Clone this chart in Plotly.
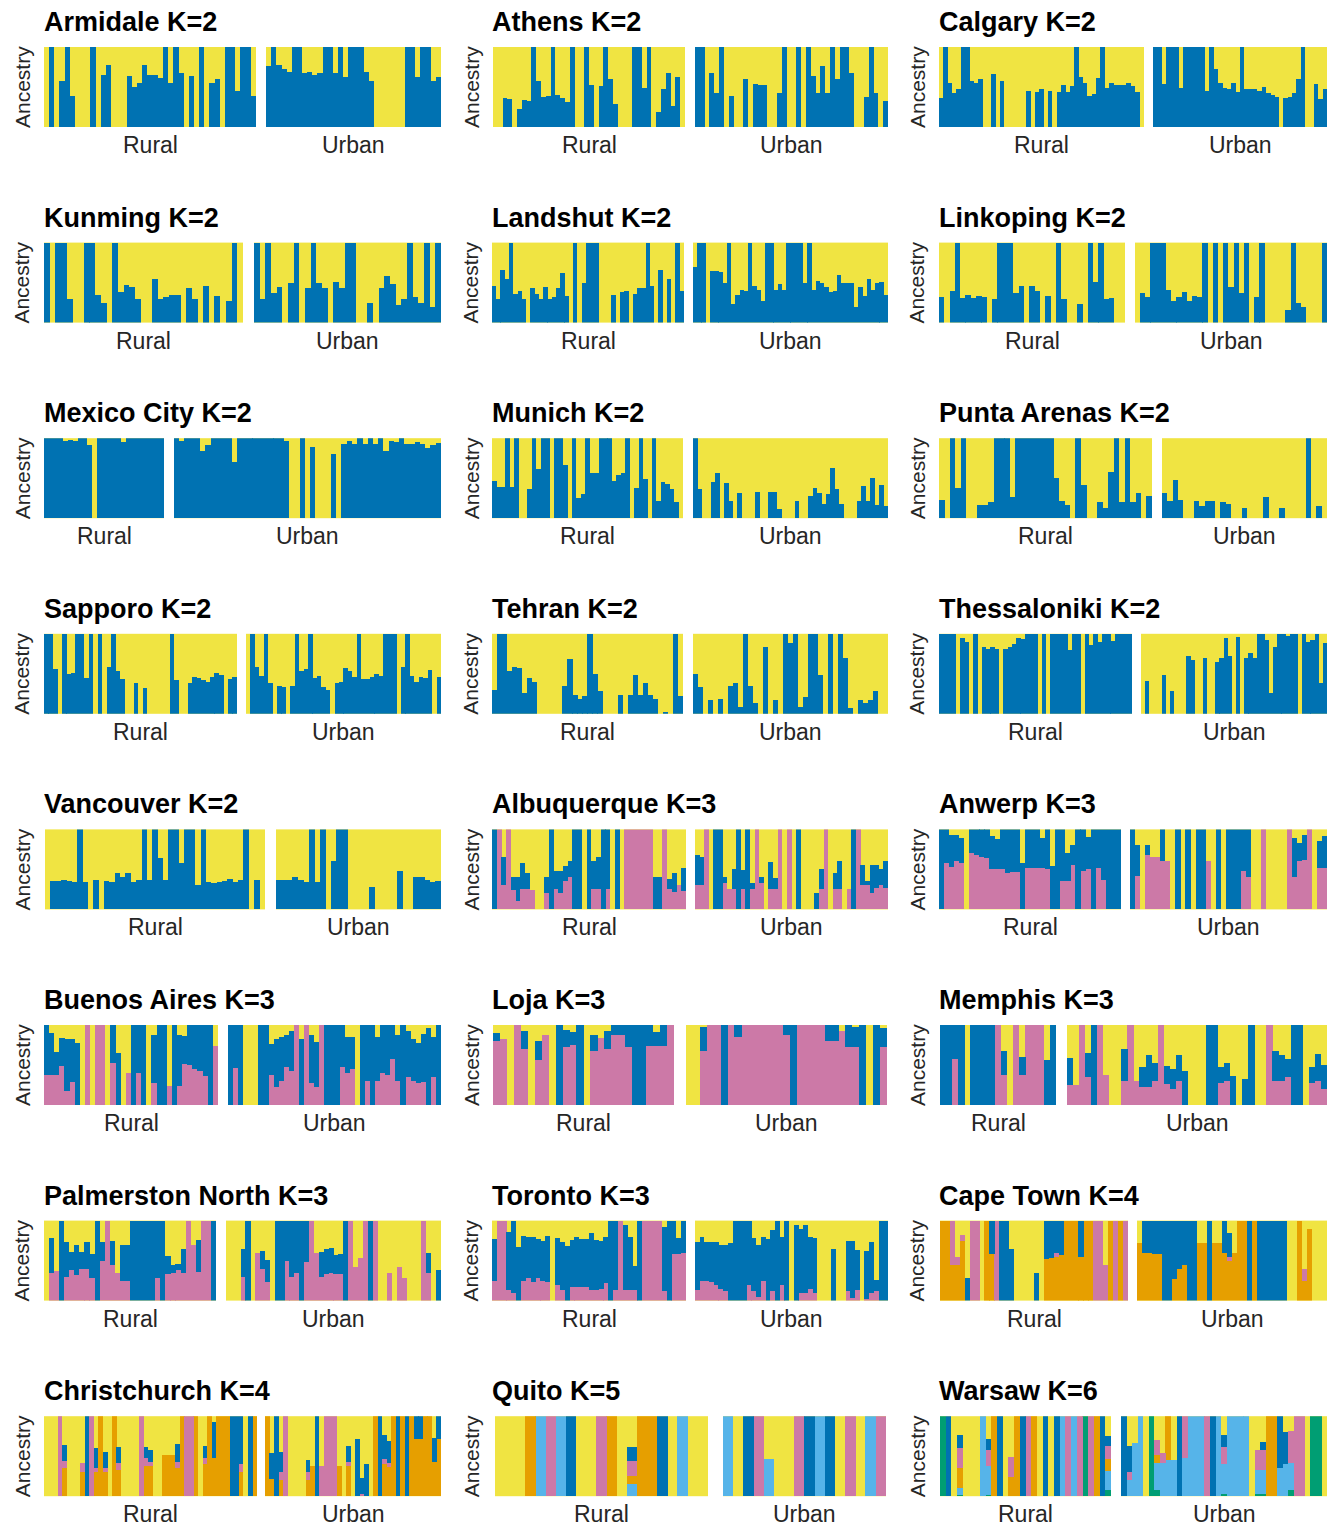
import plotly.graph_objects as go

W, H = 1327, 1526

# ---------------- data (ancestry fractions per individual; yellow = remainder) ----------------
armidale_rural_blue = [0,1,0,.58,1,.39,0,0,0,1,0,.65,.77,0,0,0,.64,.5,.55,.77,.65,.65,.61,1,.55,1,.67,0,.64,0,1,0,.55,.6,0,1,1,.45,1,1,.39]
armidale_urban_blue = [.76,1,.77,.73,.69,1,1,.67,.69,.65,.67,1,1,.67,1,.63,1,1,1,.69,.57,0,0,0,0,0,0,1,1,.62,1,1,.57,.62]
athens_rural_blue = [0,0,.36,.35,0,.23,.34,.33,1,.57,.38,.39,1,.40,.36,.31,1,0,0,1,.53,0,.51,1,.6,.29,0,0,0,1,1,.49,1,0,.19,.48,.68,.26,.62,0]
athens_urban_blue = [1,1,0,.67,.43,1,0,.39,0,0,.6,0,.54,.52,.52,0,0,.42,1,0,0,1,0,1,.64,.42,.76,.43,1,.6,1,1,.67,0,0,.38,1,.42,0,.33]
calgary_rural_blue = [.36,1,.55,.42,.48,1,1,.57,.55,.6,0,0,.66,0,.57,0,0,0,0,0,.45,0,.44,.47,0,.45,0,.44,.52,.44,.51,1,.63,.55,.39,.41,.61,1,.49,.55,.52,.53,.52,.55,.51,.44,0]
calgary_urban_blue = [1,1,.54,1,1,1,.49,1,1,1,1,1,.45,1,.73,.55,.49,.48,.55,.44,1,.48,.47,.47,.45,.50,.42,.40,.37,0,.36,.37,.42,.60,1,0,0,.54,.35,.47]
kunming_rural_blue = [1,0,1,1,.30,0,0,1,1,.34,.25,0,1,.38,.47,.45,.29,0,0,.54,.29,.32,.35,.35,0,.43,.29,0,.46,0,.33,0,.27,1,0]
kunming_urban_blue = [1,.29,1,.37,.45,0,.5,1,0,.43,1,.49,.43,0,.51,.43,1,1,0,0,.24,0,.43,.58,.48,.22,.30,1,.32,.24,1,.2,1]
landshut_rural_blue = [.46,.30,.66,.55,1,.36,.39,.30,0,.43,.36,.30,.44,.30,.32,.43,.62,.33,0,1,0,.49,1,1,1,0,0,0,.34,0,.38,.40,0,.36,.43,.43,1,.46,0,.66,0,.55,0,1,.40]
landshut_urban_blue = [.70,1,1,0,.64,.64,.63,.50,1,.23,.34,.41,.39,1,.46,.41,.27,1,1,.41,.48,.41,1,1,1,1,.50,1,.41,.52,.49,.45,.38,.40,.60,.49,.49,.49,.20,.44,.33,.54,.41,.49,.51,.35]
linkoping_rural_blue = [.32,0,.39,1,.31,.34,.31,.33,.32,0,.30,1,1,1,.37,.46,0,.46,.39,0,.33,0,1,.30,0,0,.23,0,1,.51,1,.30,.31,0,0]
linkoping_urban_blue = [0,.37,.32,1,1,1,.41,.27,.32,.38,.27,.33,.32,1,0,1,0,1,.45,1,.37,1,0,.32,1,0,0,0,0,.16,1,.24,.19,0,0,0,1]
mexico_rural_blue = [1,1,1,1,.97,.98,.97,1,1,.92,0,1,1,1,1,1,.95,1,1,1,1,1,1,1,1]
mexico_urban_blue = [1,.97,1,1,1,.84,.92,1,1,1,1,.70,1,1,1,1,1,1,1,1,1,.97,0,0,1,0,.89,0,0,0,.80,0,
                     .93,.97,.93,1,.93,1,.93,1,.84,.97,.95,1,.93,.93,.95,.93,.88,.91,.94]
munich_rural_blue = [.47,.39,.39,1,.39,1,0,0,.36,1,.62,1,1,0,1,1,.67,0,1,.25,.30,1,.57,.57,1,1,1,.46,.54,.56,1,0,.38,1,.49,0,1,.21,.45,.43,.36,.2,0]
munich_urban_blue = [1,.36,0,0,.45,.56,0,.44,.21,0,.31,0,0,0,.33,0,0,.33,.33,.12,0,0,0,.21,0,0,.28,.38,.31,.18,.30,.63,.36,.18,0,0,0,.21,.4,.21,.5,.17,.41,.15]
punta_rural_blue = [.23,0,1,.38,1,0,0,.16,.17,.20,1,1,1,.27,1,1,1,1,1,1,1,.5,.22,.17,0,1,.42,0,0,.2,.13,.58,1,.2,1,.2,.31,0,.28]
punta_urban_blue = [.32,.21,.48,.23,0,0,.21,.15,.21,.21,0,.2,.18,0,0,.13,0,0,0,.27,0,0,.13,0,0,0,0,1,0,.15,0]
sapporo_rural_blue = [1,1,.56,0,1,.5,.51,1,1,.45,1,0,1,0,.58,1,.54,.43,0,0,.39,0,.32,0,0,0,0,0,1,.42,0,0,.38,.46,.45,.42,.4,.46,.51,.49,0,.43,.46]
sapporo_urban_blue = [0,1,.58,.47,1,.38,0,.35,.33,0,.35,1,.53,.56,1,.45,.47,.34,.30,0,.38,.4,.57,.54,.46,1,.43,.43,.46,.5,.47,1,1,1,0,.58,1,.47,.4,.46,.45,.55,0,.46]
tehran_rural_blue = [.30,1,1,.54,.58,.57,.26,.45,.4,0,0,0,0,0,.35,.68,.23,.18,.22,1,.5,.28,0,0,0,.24,0,.23,.49,.23,.38,.23,.18,0,.02,0,1,.22]
tehran_urban_blue = [.5,.34,0,.17,0,.19,0,.35,.38,.08,1,.35,.13,0,.84,0,.17,0,1,.88,1,.08,.21,1,1,.48,0,1,0,1,.70,.07,0,.17,.14,.17,.29,0,0]
thessaloniki_rural_blue = [1,1,1,1,0,.95,.9,0,1,0,.84,.81,.83,.81,0,.81,.84,.87,.95,.94,1,1,1,0,1,0,1,1,1,1,.8,1,1,0,1,.86,1,.9,1,1,.91,1,1,1,1]
thessaloniki_urban_blue = [0,.41,0,0,0,.49,0,.28,0,0,0,.72,.67,0,0,.70,0,0,.65,.70,.95,.72,0,.96,0,.70,.76,.70,1,1,.92,.26,.83,1,1,.97,1,1,0,1,.9,.92,1,.38,.88]
vancouver_rural_blue = [0,.35,.36,.37,.36,.34,1,.34,0,.37,0,.35,.34,.45,.4,.45,.34,.37,1,.37,1,.64,.37,1,1,.58,1,1,.3,1,.34,.33,.34,.35,.38,.34,.37,1,0,.37,0]
vancouver_urban_blue = [.37,.37,.37,.4,.37,.34,1,.34,1,0,.6,1,1,0,0,0,0,.28,0,0,0,0,.48,0,0,.4,.4,.37,.34,.35]

albuquerque_rural_pink = [0,1,.3,1,.24,.1,.25,.25,.24,0,0,.2,0,.25,.2,.35,.4,0,0,0,0,.25,.25,0,.25,0,0,0,1,1,1,1,1,1,0,0,1,.25,.22,.3,.23]
albuquerque_rural_blue = [1,0,.35,0,.16,.3,.33,.2,0,0,0,.2,1,.23,.28,.19,.2,1,1,0,1,.35,.41,1,.75,0,1,0,0,0,0,0,0,0,.4,.4,0,.13,.23,0,.29]
albuquerque_urban_pink = [.3,.3,1,0,0,0,.33,.25,.25,0,.25,0,.25,1,.33,0,.25,.25,1,0,1,0,0,0,0,0,0,.25,1,0,.25,.25,0,.25,0,1,.3,.3,.2,.27,.3,.27]
albuquerque_urban_blue = [.38,.35,0,0,1,1,.08,0,.26,1,.24,1,.08,0,.08,0,.34,.14,0,0,0,0,1,0,0,0,.2,.25,0,0,.2,.36,0,0,1,0,.25,.05,.36,.28,.2,.33]
anwerp_rural_pink = [0,.58,.53,.6,.58,0,.71,.68,.66,.64,.5,.5,.5,.45,.47,.47,0,.52,.52,.52,.52,.5,0,0,.35,.35,.55,0,.48,.5,0,.52,.37,0,0,0]
anwerp_rural_blue = [1,.42,.4,.33,.31,0,.29,.32,.34,.36,.42,.38,.5,.55,.53,.53,.58,.48,.48,.48,.37,.5,.54,1,.65,.36,.25,1,.52,.41,1,.48,.63,1,1,1]
anwerp_urban_pink = [0,.42,0,.68,.65,.65,.6,.6,0,0,0,0,0,0,0,.6,0,0,0,0,0,0,.48,.4,0,0,1,0,0,0,0,1,.4,.6,.62,1,0,.52,.52]
anwerp_urban_blue = [1,.38,0,.12,0,0,.4,0,0,1,0,1,0,1,1,0,0,1,0,1,1,1,.52,.6,0,0,0,0,0,0,0,0,.49,.23,.31,0,0,.33,.4]
buenosaires_rural_pink = [.38,.38,.38,.49,.18,.29,0,0,1,0,1,1,0,.52,0,0,.4,0,.4,0,0,.28,0,0,.24,0,.24,.51,.5,.45,.42,.36,0,.74]
buenosaires_rural_blue = [.62,.52,.28,.35,.65,.53,.78,0,0,0,0,0,0,.48,.65,0,0,1,.6,1,0,.6,1,1,0,1,.64,.35,.5,.55,.58,.64,1,0]
buenosaires_urban_pink = [0,.46,0,0,0,0,0,0,.37,.22,.3,.47,.42,1,0,1,.28,.22,1,0,0,0,.48,.4,.45,0,0,.3,0,.3,.4,.38,.58,.3,0,.35,.3,.28,.29,0,.35,0]
buenosaires_urban_blue = [1,.54,1,0,0,0,1,1,.39,.6,.55,.41,.5,0,.82,0,.6,.57,0,1,1,1,.52,.45,.4,0,1,.7,1,.55,.6,.62,.42,.57,1,.57,.52,.5,.6,.96,.5,1]
loja_rural_pink = [.8,.82,0,1,.7,0,.56,.87,0,0,.72,.75,0,0,.67,.84,.7,.88,.88,.73,0,0,.74,.74,.74,1]
loja_rural_blue = [.1,0,0,0,.22,0,.24,0,0,1,.22,.16,1,0,.2,0,.22,.12,.12,.27,1,1,.26,.17,.26,0]
loja_urban_pink = [0,0,.68,1,1,0,1,.85,1,1,1,1,1,1,.88,0,1,1,1,1,.8,.8,.93,.72,.72,0,0,0,.73]
loja_urban_blue = [0,0,.3,0,0,1,0,.15,0,0,0,0,0,0,.12,1,0,0,0,0,.2,.2,0,.28,.25,1,0,1,.23]
memphis_rural_pink = [0,0,.58,0,0,0,0,0,0,1,.37,0,1,.37,1,1,1,0,0]
memphis_rural_blue = [1,1,.42,1,0,1,1,1,1,0,.31,0,0,.23,0,0,0,.56,1]
memphis_urban_pink = [.25,.25,1,.35,0,1,.37,0,0,.3,1,.3,.23,.23,.3,1,.26,.2,.3,0,0,0,0,0,0,.28,.3,0,0,0,0,0,0,1,.3,.3,.35,0,0,0,.28,.3,.2]
memphis_urban_blue = [.34,0,0,.3,1,0,0,0,0,.4,0,0,.24,.4,.23,0,.23,.25,.33,.42,0,0,0,1,1,.19,.22,.36,0,.32,1,0,0,0,.37,.33,.22,1,1,0,.2,.34,.3]
palmerston_rural_pink = [0,.35,.37,0,.3,.38,.32,.4,.4,.28,0,.5,1,.45,.35,.25,.25,0,0,0,0,0,.28,0,.33,.35,.38,.35,1,.7,.36,1,1,0]
palmerston_rural_blue = [0,.43,0,1,.43,.23,.37,.21,.33,.3,1,.23,0,.3,0,.45,.45,1,1,1,1,1,.72,1,.23,.1,.08,.3,0,0,.4,0,0,1]
palmerston_urban_pink = [0,0,0,.3,0,0,.6,.4,.23,0,0,0,.5,.3,.35,0,.48,1,.6,.3,.33,.35,.33,.33,0,1,.42,.53,1,0,1,0,0,.35,0,.42,.28,0,0,0,1,.35,0,0]
palmerston_urban_blue = [0,0,0,.35,1,0,0,.22,.28,0,1,1,.5,.7,.65,1,.52,0,0,.31,.31,.31,.24,.25,1,0,0,0,0,1,0,0,0,0,0,0,0,0,0,0,0,.25,0,.38]
toronto_rural_pink = [.25,1,1,.13,.1,0,.25,.28,.23,.28,.24,.23,0,.2,.13,0,.17,.17,.17,.17,.13,.13,.15,.22,0,.13,1,.13,.13,.13,0,1,1,1,1,.12,0,.58,.58,.6]
toronto_rural_blue = [.52,0,0,.73,.9,.67,.56,.51,.57,.49,.51,.58,0,.58,.6,.68,.59,.62,.6,.6,.72,.63,.6,.58,1,.87,0,.81,.67,.3,1,0,0,0,0,.8,1,.42,.2,.4]
toronto_urban_pink = [.13,.25,.25,.23,.2,.15,.12,0,0,0,0,.2,.12,.05,.25,0,.12,0,.2,0,0,0,.1,.1,.15,.1,0,0,0,0,0,0,.12,.03,.13,0,.02,.1,.12,0,0]
toronto_urban_blue = [.6,.55,.48,.5,.53,.55,.58,.72,1,1,1,.8,.66,.65,.54,.77,.76,1,.6,1,0,.94,.8,.84,.65,.68,0,0,0,.64,0,0,.63,.71,.5,0,.6,.63,.14,1,1]

capetown_rural_orange = [1,1,.45,.45,.75,0,0,0,0,1,.58,0,0,0,0,0,0,0,0,0,0,.52,.53,.55,.57,1,1,1,.55,1,1,0,0,0,1,0,1,0]
capetown_rural_pink = [0,0,.55,.1,.07,0,1,1,0,0,0,1,0,0,0,0,0,0,0,0,0,0,0,.05,0,0,0,0,0,0,0,1,1,.45,0,1,0,1]
capetown_rural_blue = [0,0,0,0,0,.28,0,0,0,0,.42,0,1,1,.64,0,0,0,0,.35,0,.48,.47,.4,.43,0,0,0,.45,0,0,0,0,0,0,0,0,0]
capetown_urban_orange = [.72,.6,.6,.58,.58,0,0,.27,.4,.44,0,0,.72,.72,0,.72,.72,.6,.5,.6,1,1,0,1,0,0,0,0,0,0,0,0,1,.25,.9,0,0,0]
capetown_urban_pink = [0,0,0,0,0,0,0,0,0,0,0,0,0,0,0,0,0,0,.05,0,0,0,0,0,0,0,0,0,0,0,0,0,0,.15,0,0,0,0]
capetown_urban_blue = [0,.4,.4,.42,.42,1,1,.73,.6,.56,1,1,0,0,1,0,0,.4,.3,0,0,0,1,0,1,1,1,1,1,1,0,0,0,0,0,0,0,0]
christchurch_rural_orange = [0,0,0,0,.35,0,0,0,.3,0,0,.3,1,.3,0,1,.33,0,0,0,0,0,.38,.38,0,0,.52,.52,.52,.35,1,0,0,1,0,.4,1,.48,1,1,1,0,0,.3,0,0,1]
christchurch_rural_pink = [0,0,0,1,.09,0,0,0,.12,0,1,.05,0,.05,0,0,.08,0,0,0,0,1,.1,.05,0,0,0,0,0,.08,0,1,1,0,0,.08,0,0,0,0,0,0,0,.1,0,0,0]
christchurch_rural_blue = [0,0,0,0,.2,0,0,0,0,1,0,.25,0,.2,0,0,.2,0,0,0,0,0,.14,.15,0,0,0,0,0,.22,0,0,0,0,0,.15,0,.45,0,0,0,1,1,.6,0,1,0]
christchurch_urban_orange = [1,.22,0,.2,0,0,0,0,0,.2,.38,0,0,0,0,0,.38,0,.38,0,0,0,0,0,1,0,.4,.37,1,0,1,0,1,.72,.72,1,1,.43,.72]
christchurch_urban_pink = [0,0,0,.1,1,0,0,0,0,.1,0,0,.38,1,1,1,0,0,.05,0,0,.03,0,0,0,0,.07,.05,0,0,0,0,0,0,0,0,0,0,0]
christchurch_urban_blue = [0,.32,1,.25,0,0,0,0,0,.15,0,1,0,0,0,0,0,0,.2,0,.72,.2,.4,0,0,1,.3,.27,0,1,0,1,0,.28,.28,0,0,.3,.28]

quito_rural_lightblue = [0,0,0,0,1,0,1,0,0,0,0,0,0,.15,0,0,0,0,1,0,0]
quito_rural_orange = [0,0,0,1,0,0,0,0,0,0,0,1,0,.1,1,1,0,0,0,0,0]
quito_rural_pink = [0,0,0,0,0,1,0,0,0,0,1,0,0,.19,0,0,0,0,0,0,0]
quito_rural_blue = [0,0,0,0,0,0,0,1,0,0,0,0,0,.17,0,0,1,0,0,0,0]
quito_urban_lightblue = [1,0,0,0,.46,0,0,0,0,1,0,0,0,0,1,0]
quito_urban_orange = [0,0,0,0,0,0,0,0,0,0,0,0,0,0,0,0]
quito_urban_pink = [0,0,0,1,0,0,0,1,0,0,0,0,1,0,0,1]
quito_urban_blue = [0,0,1,0,0,0,0,0,1,0,1,0,0,0,0,0]

warsaw_rural_green = [1,0,0,.02,0,0,0,0,.01,0,0,0,0,0,0,0,0,0,0,0,0,0,0,0,0,1,0,0,0,.08]
warsaw_rural_lightblue = [0,0,0,.08,0,0,0,1,.37,0,0,0,0,0,0,0,0,0,0,0,0,1,0,1,0,0,0,0,0,.23]
warsaw_rural_orange = [0,0,0,.25,0,0,0,0,0,1,0,0,.24,1,0,0,1,0,0,0,0,0,0,0,0,0,0,1,0,.15]
warsaw_rural_pink = [0,0,0,.25,0,0,0,0,.2,0,0,0,.25,0,0,1,0,0,0,0,0,0,1,0,1,0,1,0,0,.17]
warsaw_rural_blue = [0,1,0,.17,0,0,0,0,.14,0,1,0,0,0,1,0,0,0,1,0,1,0,0,0,0,0,0,0,1,.12]
warsaw_urban_green = [0,0,0,0,0,1,.08,0,0,0,0,0,0,0,0,0,0,0,.03,0,0,0,0,0,.03,.03,0,0,0,0,.08,0,0,0,1,1,0]
warsaw_urban_lightblue = [0,.2,.67,1,0,0,.33,.42,.45,.45,0,.48,1,1,1,0,0,1,.37,1,1,1,1,0,.3,.3,0,0,.35,.4,.33,0,0,0,0,0,0]
warsaw_urban_orange = [0,0,0,0,0,0,.1,0,.55,0,0,0,0,0,0,0,0,0,0,0,0,0,0,0,0,0,1,1,0,0,0,0,0,0,0,0,0]
warsaw_urban_pink = [0,.1,0,0,0,0,.19,.12,0,0,0,.52,0,0,0,1,0,0,.22,0,0,0,0,0,.25,.25,0,0,0,0,.4,1,1,0,0,0,0]
warsaw_urban_blue = [1,.33,0,0,0,0,0,0,0,0,1,0,0,0,0,0,1,0,.15,0,0,0,0,0,0,.1,0,0,.65,.4,0,0,0,0,0,0,0]

# ---------------- panel table ----------------
panels = [
    ("Armidale K=2", {"blue": armidale_rural_blue}, {"blue": armidale_urban_blue}),
    ("Athens K=2", {"blue": athens_rural_blue}, {"blue": athens_urban_blue}),
    ("Calgary K=2", {"blue": calgary_rural_blue}, {"blue": calgary_urban_blue}),
    ("Kunming K=2", {"blue": kunming_rural_blue}, {"blue": kunming_urban_blue}),
    ("Landshut K=2", {"blue": landshut_rural_blue}, {"blue": landshut_urban_blue}),
    ("Linkoping K=2", {"blue": linkoping_rural_blue}, {"blue": linkoping_urban_blue}),
    ("Mexico City K=2", {"blue": mexico_rural_blue}, {"blue": mexico_urban_blue}),
    ("Munich K=2", {"blue": munich_rural_blue}, {"blue": munich_urban_blue}),
    ("Punta Arenas K=2", {"blue": punta_rural_blue}, {"blue": punta_urban_blue}),
    ("Sapporo K=2", {"blue": sapporo_rural_blue}, {"blue": sapporo_urban_blue}),
    ("Tehran K=2", {"blue": tehran_rural_blue}, {"blue": tehran_urban_blue}),
    ("Thessaloniki K=2", {"blue": thessaloniki_rural_blue}, {"blue": thessaloniki_urban_blue}),
    ("Vancouver K=2", {"blue": vancouver_rural_blue}, {"blue": vancouver_urban_blue}),
    ("Albuquerque K=3", {"pink": albuquerque_rural_pink, "blue": albuquerque_rural_blue},
                        {"pink": albuquerque_urban_pink, "blue": albuquerque_urban_blue}),
    ("Anwerp K=3", {"pink": anwerp_rural_pink, "blue": anwerp_rural_blue},
                   {"pink": anwerp_urban_pink, "blue": anwerp_urban_blue}),
    ("Buenos Aires K=3", {"pink": buenosaires_rural_pink, "blue": buenosaires_rural_blue},
                         {"pink": buenosaires_urban_pink, "blue": buenosaires_urban_blue}),
    ("Loja K=3", {"pink": loja_rural_pink, "blue": loja_rural_blue},
                 {"pink": loja_urban_pink, "blue": loja_urban_blue}),
    ("Memphis K=3", {"pink": memphis_rural_pink, "blue": memphis_rural_blue},
                    {"pink": memphis_urban_pink, "blue": memphis_urban_blue}),
    ("Palmerston North K=3", {"pink": palmerston_rural_pink, "blue": palmerston_rural_blue},
                             {"pink": palmerston_urban_pink, "blue": palmerston_urban_blue}),
    ("Toronto K=3", {"pink": toronto_rural_pink, "blue": toronto_rural_blue},
                    {"pink": toronto_urban_pink, "blue": toronto_urban_blue}),
    ("Cape Town K=4", {"orange": capetown_rural_orange, "pink": capetown_rural_pink, "blue": capetown_rural_blue},
                      {"orange": capetown_urban_orange, "pink": capetown_urban_pink, "blue": capetown_urban_blue}),
    ("Christchurch K=4", {"orange": christchurch_rural_orange, "pink": christchurch_rural_pink, "blue": christchurch_rural_blue},
                         {"orange": christchurch_urban_orange, "pink": christchurch_urban_pink, "blue": christchurch_urban_blue}),
    ("Quito K=5", {"lightblue": quito_rural_lightblue, "orange": quito_rural_orange, "pink": quito_rural_pink, "blue": quito_rural_blue},
                  {"lightblue": quito_urban_lightblue, "orange": quito_urban_orange, "pink": quito_urban_pink, "blue": quito_urban_blue}),
    ("Warsaw K=6", {"green": warsaw_rural_green, "lightblue": warsaw_rural_lightblue, "orange": warsaw_rural_orange,
                    "pink": warsaw_rural_pink, "blue": warsaw_rural_blue},
                   {"green": warsaw_urban_green, "lightblue": warsaw_urban_lightblue, "orange": warsaw_urban_orange,
                    "pink": warsaw_urban_pink, "blue": warsaw_urban_blue}),
]

# ---------------- layout / style ----------------
COLORS = {"green": "#009E73", "lightblue": "#56B4E9", "orange": "#E69F00",
          "pink": "#CC79A7", "blue": "#0072B2"}
YELLOW = "#F0E442"
ORDER = ["green", "lightblue", "orange", "pink", "blue"]

# pixel extents of rural / urban strips: (rural x0, rural x1, urban x0, urban x1)
extents = [
    (44, 256, 266, 441), (493, 685, 695, 888), (939, 1144, 1153, 1327),
    (44, 243, 254, 441), (492, 684, 693, 888), (939, 1125, 1135, 1327),
    (44, 164, 174, 441), (492, 683, 693, 888), (939, 1152, 1162, 1327),
    (44, 237, 246, 441), (492, 683, 693, 888), (939, 1132, 1141, 1327),
    (45, 265, 276, 441), (492, 686, 695, 888), (939, 1121, 1130, 1327),
    (44, 218, 228, 441), (493, 674, 686, 887), (940, 1056, 1067, 1327),
    (44, 216, 226, 441), (492, 686, 695, 888), (940, 1128, 1137, 1327),
    (44, 257, 265, 441), (495, 708, 723, 886), (940, 1111, 1121, 1327),
]
title_x = [42, 490, 937]
anc_x = [22, 471, 917]
ROW_PITCH = 195.6
FONT = "Liberation Sans, Arial, Helvetica, sans-serif"

fig = go.Figure()
lay = {}
annotations = []
ax = 0
for p, (title, rural, urban) in enumerate(panels):
    row, col = divmod(p, 3)
    top = 47 + ROW_PITCH * row
    bot = top + 80
    e = extents[p]
    annotations.append(dict(text=f"<b>{title}</b>", x=title_x[col] / W, y=1 - (22 + ROW_PITCH * row) / H,
                            xref="paper", yref="paper", xanchor="left", yanchor="middle", showarrow=False,
                            font=dict(family=FONT, size=27, color="#000000")))
    annotations.append(dict(text="Ancestry", x=anc_x[col] / W, y=1 - (top + 40) / H, textangle=-90,
                            xref="paper", yref="paper", xanchor="center", yanchor="middle", showarrow=False,
                            font=dict(family=FONT, size=21, color="#262626")))
    for comp, x0, x1, lab in [(rural, e[0], e[1], "Rural"), (urban, e[2], e[3], "Urban")]:
        ax += 1
        sfx = "" if ax == 1 else str(ax)
        n = len(next(iter(comp.values())))
        idx = list(range(n))
        for key in ORDER:
            if key in comp:
                fig.add_trace(go.Bar(x=idx, y=comp[key], xaxis="x" + sfx, yaxis="y" + sfx,
                                     marker=dict(color=COLORS[key], line=dict(width=0)),
                                     width=1.03, showlegend=False, hoverinfo="skip"))
        lay["xaxis" + sfx] = dict(domain=[x0 / W, x1 / W], range=[-0.5, n - 0.5], visible=False,
                                  anchor="y" + sfx, fixedrange=True)
        lay["yaxis" + sfx] = dict(domain=[1 - bot / H, 1 - top / H], range=[0, 1], visible=False,
                                  anchor="x" + sfx, fixedrange=True)
        annotations.append(dict(text=lab, x=(x0 + x1) / 2 / W, y=1 - (bot + 18) / H,
                                xref="paper", yref="paper", xanchor="center", yanchor="middle", showarrow=False,
                                font=dict(family=FONT, size=23, color="#262626")))

fig.update_layout(**lay)
fig.update_layout(width=W, height=H, margin=dict(l=0, r=0, t=0, b=0),
                  paper_bgcolor="white", plot_bgcolor=YELLOW, barmode="stack", bargap=0,
                  showlegend=False, annotations=annotations)
fig.write_html("out.html", config={"displayModeBar": False, "staticPlot": True},
               post_script="document.body.style.margin='0px';document.body.style.padding='0px';"
                           "document.body.style.overflow='hidden';"
                           "document.documentElement.style.overflow='hidden';")
